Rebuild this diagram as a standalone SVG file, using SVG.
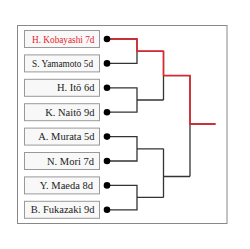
<svg xmlns="http://www.w3.org/2000/svg" width="250" height="249" viewBox="0 0 250 249">
<style>
.frame{fill:#fff;stroke:#888;stroke-width:1}
.box{fill:#f8f8f8;stroke:#999;stroke-width:1}
.t{font-family:"Liberation Serif","Times New Roman",serif;font-size:10.5px;fill:#222;text-anchor:end}
.win{fill:#e8222a}
.c{fill:none;stroke:#333;stroke-width:1.3}
.r{fill:none;stroke:#e8222a;stroke-width:1.5}
.dot{fill:#000}
</style>
<rect class="frame" x="17.5" y="25.5" width="209.5" height="198"/>
<g id="connectors">
<path class="c" d="M107 39H137V63.4H107M137 51.2H163.5"/>
<path class="c" d="M107 87.8H137V112.2H107M137 100H163.5"/>
<path class="c" d="M107 136.6H137V161H107M137 148.8H163.5"/>
<path class="c" d="M107 185.4H137V209.8H107M137 197.4H163.5"/>
<path class="c" d="M163.5 51.2V100M163.5 75.6H190"/>
<path class="c" d="M163.5 148.8V197.4M163.5 176.5H190"/>
<path class="c" d="M190 75.6V176.5M190 124H215.5"/>
<path class="r" d="M107 39H137V51.2H163.5V75.6H190V124H215.5"/>
</g>
<g id="n1"><rect class="box" x="24.5" y="30.5" width="75" height="17" fill="#fdfafa"/><text class="t win" x="94.5" y="42.5" textLength="62.5" lengthAdjust="spacingAndGlyphs">H. Kobayashi 7d</text><circle class="dot" cx="107" cy="39" r="3.3"/></g>
<g id="n2"><rect class="box" x="24.5" y="54.9" width="75" height="17"/><text class="t" x="93" y="66.9" textLength="61" lengthAdjust="spacingAndGlyphs">S. Yamamoto 5d</text><circle class="dot" cx="107" cy="63.4" r="3.3"/></g>
<g id="n3"><rect class="box" x="24.5" y="79.3" width="75" height="17"/><text class="t" x="94.5" y="91.3">H. Itō 6d</text><circle class="dot" cx="107" cy="87.8" r="3.3"/></g>
<g id="n4"><rect class="box" x="24.5" y="103.7" width="75" height="17"/><text class="t" x="94.5" y="115.7">K. Naitō 9d</text><circle class="dot" cx="107" cy="112.2" r="3.3"/></g>
<g id="n5"><rect class="box" x="24.5" y="128.1" width="75" height="17"/><text class="t" x="94.5" y="140.1">A. Murata 5d</text><circle class="dot" cx="107" cy="136.6" r="3.3"/></g>
<g id="n6"><rect class="box" x="24.5" y="152.5" width="75" height="17"/><text class="t" x="94" y="164.5">N. Mori 7d</text><circle class="dot" cx="107" cy="161" r="3.3"/></g>
<g id="n7"><rect class="box" x="24.5" y="176.9" width="75" height="17"/><text class="t" x="93" y="188.9">Y. Maeda 8d</text><circle class="dot" cx="107" cy="185.4" r="3.3"/></g>
<g id="n8"><rect class="box" x="24.5" y="201.3" width="75" height="17"/><text class="t" x="94.5" y="213.3">B. Fukazaki 9d</text><circle class="dot" cx="107" cy="209.8" r="3.3"/></g>
</svg>
